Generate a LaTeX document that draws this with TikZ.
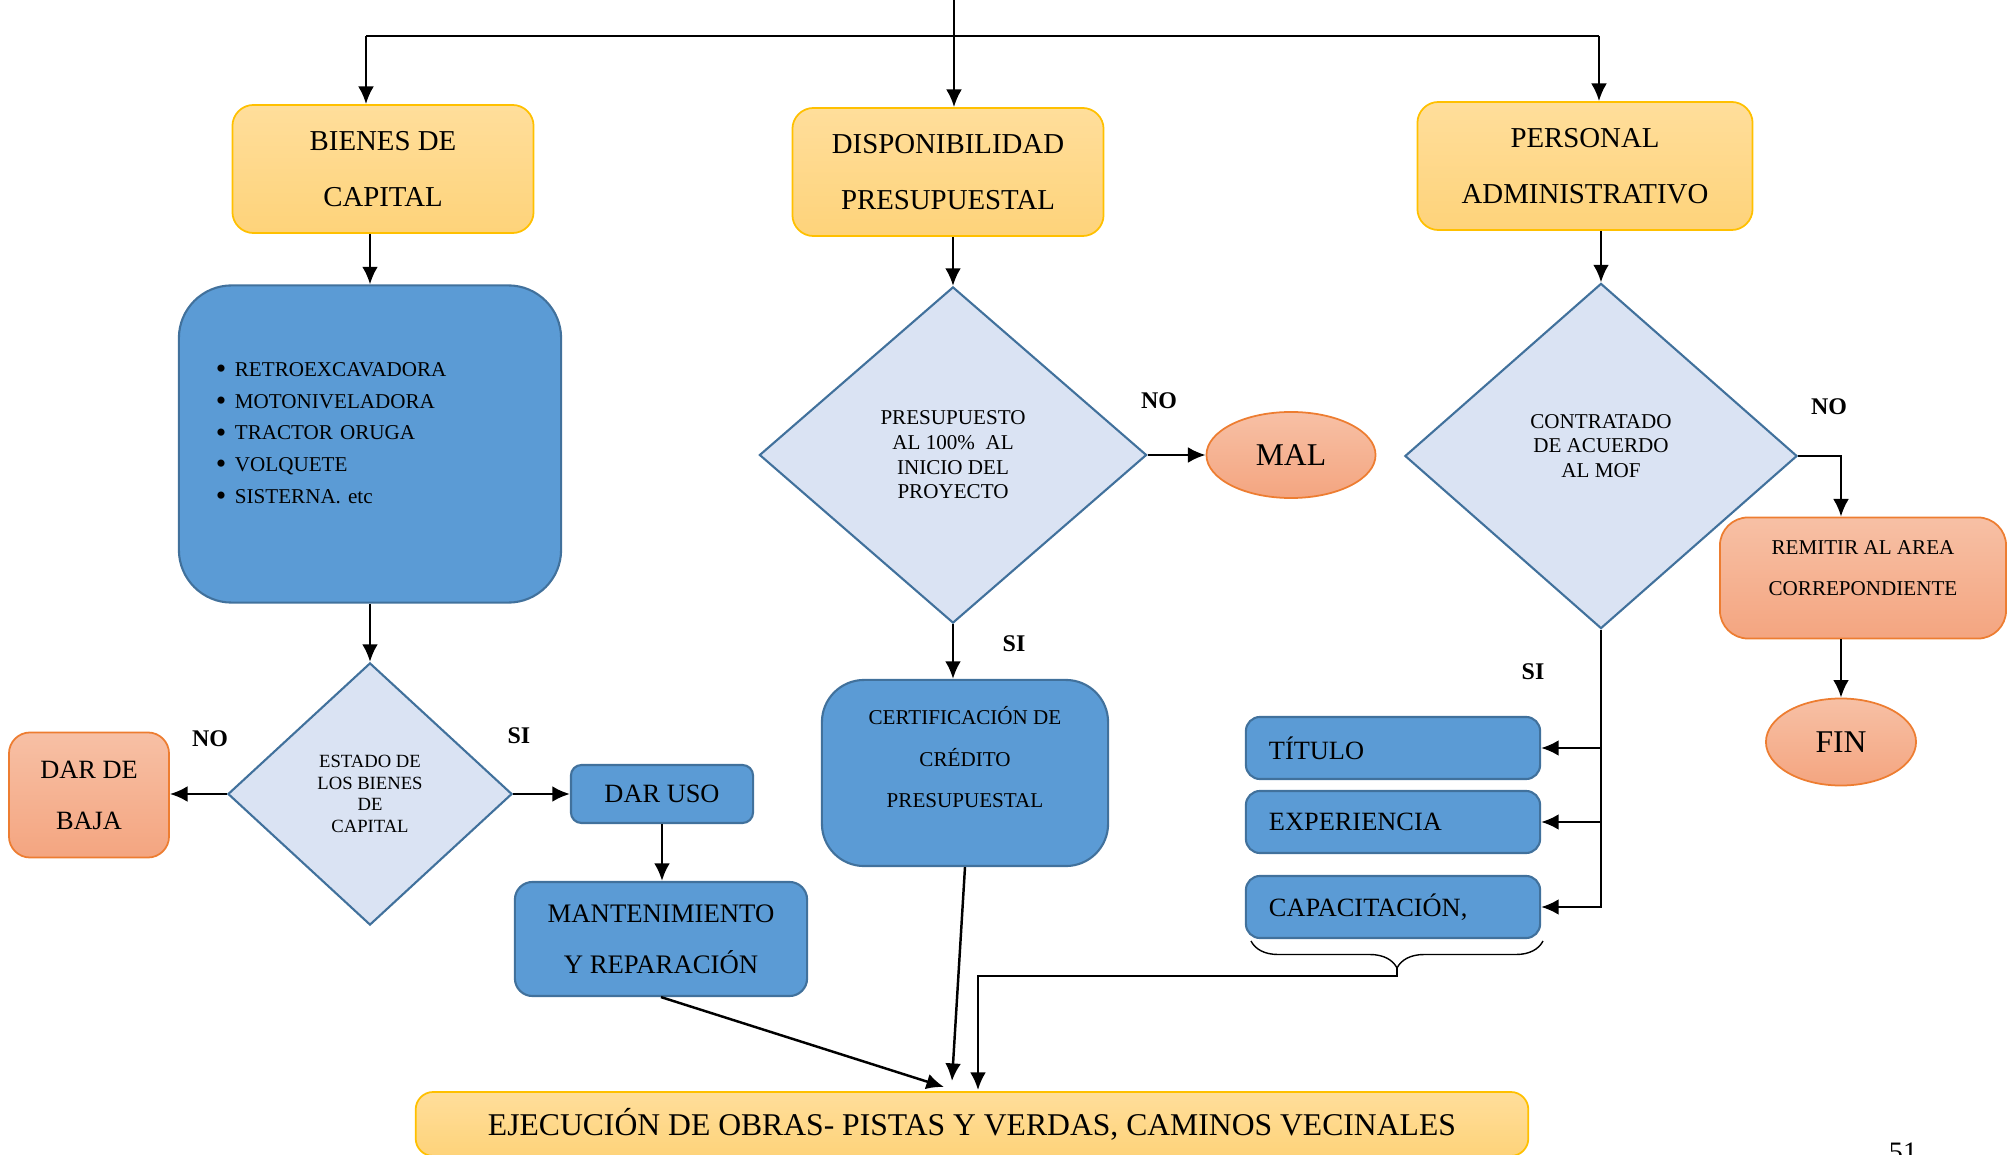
\documentclass[tikz,border=0pt]{standalone}
\usepackage{fontspec}
\setmainfont{Liberation Serif}
\usepackage{tikz}
\usetikzlibrary{arrows.meta}
\usetikzlibrary{shapes.geometric}
\usetikzlibrary{decorations.pathreplacing}

\definecolor{goldline}{RGB}{255,192,0}
\definecolor{goldtop}{RGB}{255,222,155}
\definecolor{goldbot}{RGB}{254,211,122}
\definecolor{boxblue}{RGB}{91,155,213}
\definecolor{lineblue}{RGB}{65,113,156}
\definecolor{paleblue}{RGB}{218,227,243}
\definecolor{salmontop}{RGB}{247,192,165}
\definecolor{salmonbot}{RGB}{244,165,128}
\definecolor{orangeline}{RGB}{237,125,49}

\newcommand{\vineta}{\makebox[0.19cm][l]{\raisebox{-0.6pt}{\fontsize{8.5}{9}\selectfont\textbullet}}}

\tikzset{
  flecha/.style={line width=0.7pt, -{Latex[length=5pt,width=4.5pt]}},
  goldbox/.style={draw=goldline, line width=0.5pt, top color=goldtop, bottom color=goldbot, rounded corners=6pt, align=center, inner sep=0pt, font=\fontsize{8.2}{16}\selectfont},
  bluebox/.style={draw=lineblue, line width=0.6pt, fill=boxblue, inner sep=0pt},
  salmonbox/.style={draw=orangeline, line width=0.5pt, top color=salmontop, bottom color=salmonbot, inner sep=0pt, align=center},
  decision/.style={diamond, draw=lineblue, line width=0.6pt, fill=paleblue, inner sep=0pt, align=center, font=\fontsize{6}{7}\selectfont},
  requisito/.style={bluebox, rounded corners=4pt, text width=2.48cm, inner xsep=0.23cm, minimum height=0.62cm, align=left, font=\fontsize{7.5}{9}\selectfont},
  respuesta/.style={font=\fontsize{6.8}{8}\selectfont\bfseries},
}

\begin{document}
\begin{tikzpicture}[x=0.01cm, y=-0.01cm]
\useasboundingbox (0,0) rectangle (2008,1155);

% areas
\node[goldbox, minimum width=3.01cm, minimum height=1.28cm] (bienes) at (383,169) {BIENES DE\\CAPITAL};
\node[goldbox, minimum width=3.11cm, minimum height=1.28cm] (disp) at (948,172) {DISPONIBILIDAD\\PRESUPUESTAL};
\node[goldbox, minimum width=3.35cm, minimum height=1.28cm] (pers) at (1585,166) {PERSONAL\\ADMINISTRATIVO};

\coordinate (arriba) at (954,-10);
\coordinate (ramaI) at (366,36);
\coordinate (ramaD) at (1599,36);
\draw[line width=0.7pt] (ramaI) -- (ramaD);
\draw[flecha] (ramaI) -- (ramaI |- bienes.north);
\draw[flecha] (arriba) -- (arriba |- disp.north);
\draw[flecha] (ramaD) -- (ramaD |- pers.north);

% bienes de capital
\node[bluebox, rounded corners=15pt, minimum width=3.82cm, minimum height=3.17cm, text width=3.08cm, inner xsep=0.37cm, align=left, font=\fontsize{6}{9}\selectfont] (maquinas) at (370,444)
  {\vineta RETROEXCAVADORA\\\vineta MOTONIVELADORA\\\vineta TRACTOR ORUGA\\\vineta VOLQUETE\\\vineta SISTERNA. etc\\[-2.7pt]\mbox{}};
\node[decision, minimum width=2.84cm, minimum height=2.62cm, font=\fontsize{5.3}{6.2}\selectfont] (estado) at (370,794) {ESTADO DE\\LOS BIENES\\DE\\CAPITAL};
\node[salmonbox, rounded corners=6pt, minimum width=1.60cm, minimum height=1.25cm, font=\fontsize{7.5}{14.5}\selectfont] (baja) at (89,795) {DAR DE\\BAJA};
\node[bluebox, rounded corners=3pt, minimum width=1.82cm, minimum height=0.58cm, font=\fontsize{7.5}{9}\selectfont] (uso) at (662,794) {DAR USO};
\node[bluebox, rounded corners=5pt, align=center, minimum width=2.92cm, minimum height=1.14cm, font=\fontsize{7.6}{14.5}\selectfont] (mant) at (661,939) {MANTENIMIENTO\\Y REPARACIÓN};
\node[respuesta] (no1) at (210,739) {NO};
\node[respuesta] (si1) at (519,736) {SI};

\draw[flecha] (bienes.south -| maquinas.north) -- (maquinas.north);
\draw[flecha] (maquinas.south) -- (estado.north);
\draw[flecha] (estado.west) -- (estado.west -| baja.east);
\draw[flecha] (estado.east) -- (estado.east -| uso.west);
\draw[flecha] (uso.south) -- (uso.south |- mant.north);

% presupuesto
\node[decision, minimum width=3.87cm, minimum height=3.36cm] (presup) at (953,455) {PRESUPUESTO\\AL 100\%\enspace AL\\INICIO DEL\\PROYECTO};
\node[salmonbox, ellipse, minimum width=1.69cm, minimum height=0.86cm, font=\fontsize{9}{10}\selectfont] (mal) at (1291,455) {MAL};
\node[bluebox, rounded corners=12pt, align=center, minimum width=2.86cm, minimum height=1.86cm, font=\fontsize{6}{11.8}\selectfont] (cert) at (965,773) {CERTIFICACIÓN DE\\CRÉDITO\\PRESUPUESTAL\\[-2.7pt]\mbox{}};
\node[respuesta] (no2) at (1159,401) {NO};
\node[respuesta] (si2) at (1014,644) {SI};

\draw[flecha] (presup.north |- disp.south) -- (presup.north);
\draw[flecha] (presup.east) -- (presup.east -| mal.west);
\draw[flecha] (presup.south) -- (presup.south |- cert.north);

% personal
\node[decision, minimum width=3.92cm, minimum height=3.45cm] (contr) at (1601,456) {CONTRATADO\\DE ACUERDO\\AL MOF\\[-1.3pt]\mbox{}};
\node[salmonbox, rounded corners=8pt, minimum width=2.86cm, minimum height=1.21cm, font=\fontsize{6}{11.7}\selectfont] (remit) at (1863,578) {REMITIR AL AREA\\CORREPONDIENTE\\[-6pt]\mbox{}};
\node[salmonbox, ellipse, minimum width=1.50cm, minimum height=0.87cm, font=\fontsize{9}{10}\selectfont] (fin) at (1841,742) {FIN};
\node[requisito] (titulo) at (1393,748) {TÍTULO};
\node[requisito] (exper) at (1393,822) {EXPERIENCIA};
\node[requisito] (capa) at (1393,907) {CAPACITACIÓN,};
\node[respuesta] (no3) at (1829,407) {NO};
\node[respuesta] (si3) at (1533,672) {SI};

\draw[flecha] (contr.north |- pers.south) -- (contr.north);
\draw[flecha] (contr.east) -| (fin.north |- remit.north);
\draw[flecha] (fin.north |- remit.south) -- (fin.north);
\draw[flecha] (contr.south) |- (capa.east);
\draw[flecha] (contr.south |- titulo.east) -- (titulo.east);
\draw[flecha] (contr.south |- exper.east) -- (exper.east);

% ejecucion
\node[goldbox, rounded corners=5pt, minimum width=11.12cm, minimum height=0.64cm, font=\fontsize{9}{10}\selectfont] (ejec) at (972,1124) {EJECUCIÓN DE OBRAS- PISTAS Y VERDAS, CAMINOS VECINALES};

\coordinate (llaveI) at (1251,941);
\coordinate (llaveD) at (1543,941);
\coordinate (punta) at (1397,968);
\coordinate (codo) at (1397,976);
\coordinate (entradaA) at (944,1087);
\coordinate (entradaB) at (952,1081);
\coordinate (entradaC) at (978,1090);
\draw[line width=0.4pt, decorate, decoration={brace, mirror, amplitude=0.27cm}] (llaveI) -- (llaveD);
\draw[flecha] (punta) -- (codo) -| (entradaC);
\draw[flecha] (mant.south) -- (entradaA);
\draw[flecha] (cert.south) -- (entradaB);

\node[font=\fontsize{8}{9}\selectfont, anchor=base] (pagina) at (1903,1161) {51};

\end{tikzpicture}
\end{document}
